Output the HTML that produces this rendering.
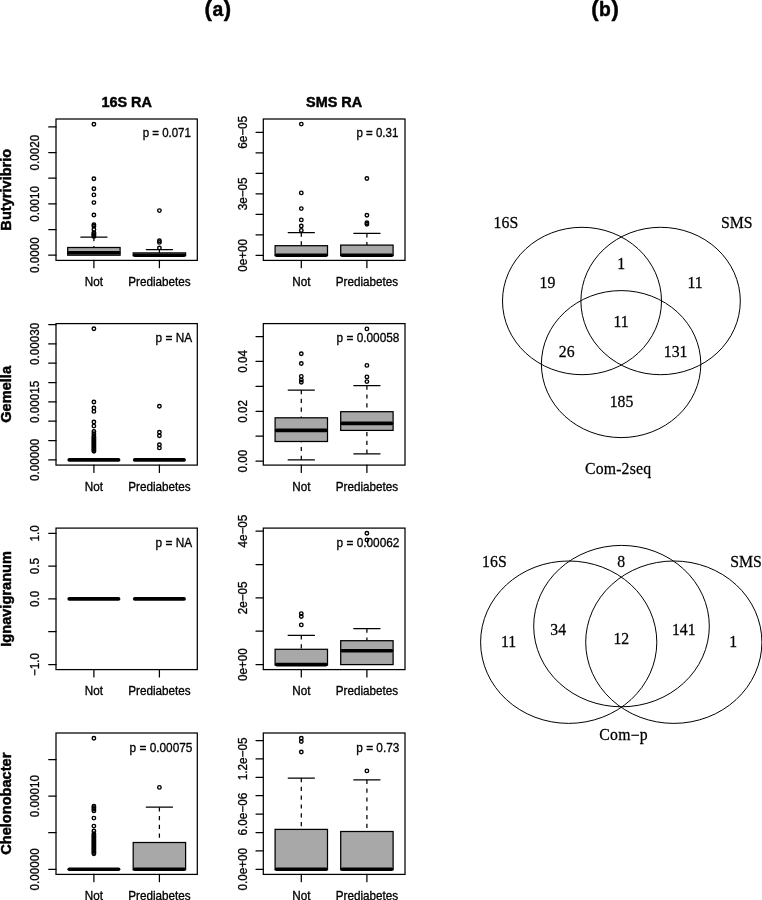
<!DOCTYPE html>
<html><head><meta charset="utf-8"><title>Figure</title>
<style>
html,body{margin:0;padding:0;background:#fff;}
body{width:762px;height:900px;overflow:hidden;font-family:"Liberation Sans",sans-serif;}
svg{display:block;will-change:transform;}
svg text{font-family:"Liberation Sans",sans-serif;fill:#000;stroke:#000;stroke-width:0.3px;}
svg text.sf{font-family:"Liberation Serif",serif;stroke-width:0.25px;}
svg text.bd{font-weight:bold;stroke-width:0.45px;}
</style></head><body>
<svg width="762" height="900" viewBox="0 0 762 900">
<rect width="762" height="900" fill="#fff"/>
<path d="M48.7 126.9H56.0" stroke="#000" stroke-width="1.25" stroke-linecap="round" fill="none"/>
<path d="M48.7 152.5H56.0" stroke="#000" stroke-width="1.25" stroke-linecap="round" fill="none"/>
<path d="M48.7 178.2H56.0" stroke="#000" stroke-width="1.25" stroke-linecap="round" fill="none"/>
<path d="M48.7 203.8H56.0" stroke="#000" stroke-width="1.25" stroke-linecap="round" fill="none"/>
<path d="M48.7 229.5H56.0" stroke="#000" stroke-width="1.25" stroke-linecap="round" fill="none"/>
<path d="M48.7 255.2H56.0" stroke="#000" stroke-width="1.25" stroke-linecap="round" fill="none"/>
<text transform="translate(39.4 255.2) rotate(-90) scale(1 1.05)" text-anchor="middle" font-size="11.7">0.0000</text>
<text transform="translate(39.4 203.8) rotate(-90) scale(1 1.05)" text-anchor="middle" font-size="11.7">0.0010</text>
<text transform="translate(39.4 152.5) rotate(-90) scale(1 1.05)" text-anchor="middle" font-size="11.7">0.0020</text>
<path d="M93.9 260.4V267.7" stroke="#000" stroke-width="1.25" stroke-linecap="round" fill="none"/>
<text transform="translate(93.9 285.9) scale(1 1.05)" text-anchor="middle" font-size="11.7">Not</text>
<path d="M159.4 260.4V267.7" stroke="#000" stroke-width="1.25" stroke-linecap="round" fill="none"/>
<text transform="translate(159.4 285.9) scale(1 1.05)" text-anchor="middle" font-size="11.7">Prediabetes</text>
<path d="M93.9 237.1V247.5" stroke="#000" stroke-width="1.25" stroke-dasharray="4.2 4.6" fill="none"/>
<path d="M80.8 237.1H107.0" stroke="#000" stroke-width="1.25" stroke-linecap="round" fill="none"/>
<rect x="67.7" y="247.5" width="52.4" height="7.7" fill="#a8a8a8" stroke="none"/>
<path d="M69.2 252.8H118.6" stroke="#000" stroke-width="3.6" stroke-linecap="round" fill="none"/>
<rect x="67.7" y="247.5" width="52.4" height="7.7" fill="none" stroke="#000" stroke-width="1.25"/>
<circle cx="93.9" cy="124.3" r="1.75" fill="none" stroke="#000" stroke-width="1.4"/>
<circle cx="93.9" cy="178.7" r="1.75" fill="none" stroke="#000" stroke-width="1.4"/>
<circle cx="93.9" cy="188.7" r="1.75" fill="none" stroke="#000" stroke-width="1.4"/>
<circle cx="93.9" cy="194.9" r="1.75" fill="none" stroke="#000" stroke-width="1.4"/>
<circle cx="93.9" cy="202.6" r="1.75" fill="none" stroke="#000" stroke-width="1.4"/>
<circle cx="93.9" cy="215.0" r="1.75" fill="none" stroke="#000" stroke-width="1.4"/>
<circle cx="93.9" cy="224.8" r="1.75" fill="none" stroke="#000" stroke-width="1.4"/>
<circle cx="93.9" cy="226.3" r="1.75" fill="none" stroke="#000" stroke-width="1.4"/>
<circle cx="93.9" cy="229.4" r="1.75" fill="none" stroke="#000" stroke-width="1.4"/>
<circle cx="93.9" cy="232.6" r="1.75" fill="none" stroke="#000" stroke-width="1.4"/>
<circle cx="93.9" cy="233.6" r="1.75" fill="none" stroke="#000" stroke-width="1.4"/>
<circle cx="93.9" cy="234.6" r="1.75" fill="none" stroke="#000" stroke-width="1.4"/>
<circle cx="93.9" cy="235.6" r="1.75" fill="none" stroke="#000" stroke-width="1.4"/>
<circle cx="93.9" cy="236.4" r="1.75" fill="none" stroke="#000" stroke-width="1.4"/>
<path d="M159.4 249.5V252.9" stroke="#000" stroke-width="1.25" stroke-dasharray="4.2 4.6" fill="none"/>
<path d="M146.3 249.5H172.5" stroke="#000" stroke-width="1.25" stroke-linecap="round" fill="none"/>
<rect x="133.2" y="252.9" width="52.4" height="2.7" fill="#a8a8a8" stroke="none"/>
<path d="M134.7 255.2H184.1" stroke="#000" stroke-width="3.6" stroke-linecap="round" fill="none"/>
<rect x="133.2" y="252.9" width="52.4" height="2.7" fill="none" stroke="#000" stroke-width="1.25"/>
<circle cx="159.4" cy="210.6" r="1.75" fill="none" stroke="#000" stroke-width="1.4"/>
<circle cx="159.4" cy="240.7" r="1.75" fill="none" stroke="#000" stroke-width="1.4"/>
<circle cx="159.4" cy="242.4" r="1.75" fill="none" stroke="#000" stroke-width="1.4"/>
<circle cx="159.4" cy="248.0" r="1.75" fill="none" stroke="#000" stroke-width="1.4"/>
<rect x="56.0" y="119.0" width="141.3" height="141.4" fill="none" stroke="#000" stroke-width="1.25"/>
<text transform="translate(190.9 137.4) scale(1 1.05)" text-anchor="end" font-size="11.5">p = 0.071</text>
<path d="M256.0 132.3H263.3" stroke="#000" stroke-width="1.25" stroke-linecap="round" fill="none"/>
<path d="M256.0 152.8H263.3" stroke="#000" stroke-width="1.25" stroke-linecap="round" fill="none"/>
<path d="M256.0 173.3H263.3" stroke="#000" stroke-width="1.25" stroke-linecap="round" fill="none"/>
<path d="M256.0 193.8H263.3" stroke="#000" stroke-width="1.25" stroke-linecap="round" fill="none"/>
<path d="M256.0 214.3H263.3" stroke="#000" stroke-width="1.25" stroke-linecap="round" fill="none"/>
<path d="M256.0 234.8H263.3" stroke="#000" stroke-width="1.25" stroke-linecap="round" fill="none"/>
<path d="M256.0 255.3H263.3" stroke="#000" stroke-width="1.25" stroke-linecap="round" fill="none"/>
<text transform="translate(246.7 255.3) rotate(-90) scale(1 1.05)" text-anchor="middle" font-size="11.7">0e+00</text>
<text transform="translate(246.7 193.8) rotate(-90) scale(1 1.05)" text-anchor="middle" font-size="11.7">3e−05</text>
<text transform="translate(246.7 132.3) rotate(-90) scale(1 1.05)" text-anchor="middle" font-size="11.7">6e−05</text>
<path d="M301.3 260.4V267.7" stroke="#000" stroke-width="1.25" stroke-linecap="round" fill="none"/>
<text transform="translate(301.3 285.9) scale(1 1.05)" text-anchor="middle" font-size="11.7">Not</text>
<path d="M366.9 260.4V267.7" stroke="#000" stroke-width="1.25" stroke-linecap="round" fill="none"/>
<text transform="translate(366.9 285.9) scale(1 1.05)" text-anchor="middle" font-size="11.7">Prediabetes</text>
<path d="M301.3 232.5V245.7" stroke="#000" stroke-width="1.25" stroke-dasharray="4.2 4.6" fill="none"/>
<path d="M288.2 232.5H314.4" stroke="#000" stroke-width="1.25" stroke-linecap="round" fill="none"/>
<rect x="275.1" y="245.7" width="52.4" height="9.9" fill="#a8a8a8" stroke="none"/>
<path d="M276.6 255.3H326.0" stroke="#000" stroke-width="3.6" stroke-linecap="round" fill="none"/>
<rect x="275.1" y="245.7" width="52.4" height="9.9" fill="none" stroke="#000" stroke-width="1.25"/>
<circle cx="301.3" cy="124.1" r="1.75" fill="none" stroke="#000" stroke-width="1.4"/>
<circle cx="301.3" cy="192.9" r="1.75" fill="none" stroke="#000" stroke-width="1.4"/>
<circle cx="301.3" cy="208.6" r="1.75" fill="none" stroke="#000" stroke-width="1.4"/>
<circle cx="301.3" cy="219.9" r="1.75" fill="none" stroke="#000" stroke-width="1.4"/>
<circle cx="301.3" cy="226.0" r="1.75" fill="none" stroke="#000" stroke-width="1.4"/>
<circle cx="301.3" cy="230.4" r="1.75" fill="none" stroke="#000" stroke-width="1.4"/>
<path d="M366.9 233.3V245.1" stroke="#000" stroke-width="1.25" stroke-dasharray="4.2 4.6" fill="none"/>
<path d="M353.8 233.3H380.0" stroke="#000" stroke-width="1.25" stroke-linecap="round" fill="none"/>
<rect x="340.7" y="245.1" width="52.4" height="10.5" fill="#a8a8a8" stroke="none"/>
<path d="M342.2 255.3H391.6" stroke="#000" stroke-width="3.6" stroke-linecap="round" fill="none"/>
<rect x="340.7" y="245.1" width="52.4" height="10.5" fill="none" stroke="#000" stroke-width="1.25"/>
<circle cx="366.9" cy="178.5" r="1.75" fill="none" stroke="#000" stroke-width="1.4"/>
<circle cx="366.9" cy="215.2" r="1.75" fill="none" stroke="#000" stroke-width="1.4"/>
<circle cx="366.9" cy="222.8" r="1.75" fill="none" stroke="#000" stroke-width="1.4"/>
<circle cx="366.9" cy="224.3" r="1.75" fill="none" stroke="#000" stroke-width="1.4"/>
<rect x="263.3" y="119.0" width="141.7" height="141.4" fill="none" stroke="#000" stroke-width="1.25"/>
<text transform="translate(398.3 137.4) scale(1 1.05)" text-anchor="end" font-size="11.5">p = 0.31</text>
<path d="M48.7 324.5H56.0" stroke="#000" stroke-width="1.25" stroke-linecap="round" fill="none"/>
<path d="M48.7 343.9H56.0" stroke="#000" stroke-width="1.25" stroke-linecap="round" fill="none"/>
<path d="M48.7 363.2H56.0" stroke="#000" stroke-width="1.25" stroke-linecap="round" fill="none"/>
<path d="M48.7 382.6H56.0" stroke="#000" stroke-width="1.25" stroke-linecap="round" fill="none"/>
<path d="M48.7 401.9H56.0" stroke="#000" stroke-width="1.25" stroke-linecap="round" fill="none"/>
<path d="M48.7 421.2H56.0" stroke="#000" stroke-width="1.25" stroke-linecap="round" fill="none"/>
<path d="M48.7 440.6H56.0" stroke="#000" stroke-width="1.25" stroke-linecap="round" fill="none"/>
<path d="M48.7 459.9H56.0" stroke="#000" stroke-width="1.25" stroke-linecap="round" fill="none"/>
<text transform="translate(39.4 459.9) rotate(-90) scale(1 1.05)" text-anchor="middle" font-size="11.7">0.00000</text>
<text transform="translate(39.4 401.9) rotate(-90) scale(1 1.05)" text-anchor="middle" font-size="11.7">0.00015</text>
<text transform="translate(39.4 343.9) rotate(-90) scale(1 1.05)" text-anchor="middle" font-size="11.7">0.00030</text>
<path d="M93.9 465.1V472.4" stroke="#000" stroke-width="1.25" stroke-linecap="round" fill="none"/>
<text transform="translate(93.9 490.6) scale(1 1.05)" text-anchor="middle" font-size="11.7">Not</text>
<path d="M159.4 465.1V472.4" stroke="#000" stroke-width="1.25" stroke-linecap="round" fill="none"/>
<text transform="translate(159.4 490.6) scale(1 1.05)" text-anchor="middle" font-size="11.7">Prediabetes</text>
<path d="M69.2 459.9H118.6" stroke="#000" stroke-width="3.6" stroke-linecap="round" fill="none"/>
<circle cx="93.9" cy="328.8" r="1.75" fill="none" stroke="#000" stroke-width="1.4"/>
<circle cx="93.9" cy="402.0" r="1.75" fill="none" stroke="#000" stroke-width="1.4"/>
<circle cx="93.9" cy="408.0" r="1.75" fill="none" stroke="#000" stroke-width="1.4"/>
<circle cx="93.9" cy="411.4" r="1.75" fill="none" stroke="#000" stroke-width="1.4"/>
<circle cx="93.9" cy="422.0" r="1.75" fill="none" stroke="#000" stroke-width="1.4"/>
<circle cx="93.9" cy="426.1" r="1.75" fill="none" stroke="#000" stroke-width="1.4"/>
<circle cx="93.9" cy="431.5" r="1.75" fill="none" stroke="#000" stroke-width="1.4"/>
<circle cx="93.9" cy="433.7" r="1.75" fill="none" stroke="#000" stroke-width="1.4"/>
<circle cx="93.9" cy="436.1" r="1.75" fill="none" stroke="#000" stroke-width="1.4"/>
<circle cx="93.9" cy="437.5" r="1.75" fill="none" stroke="#000" stroke-width="1.4"/>
<circle cx="93.9" cy="438.6" r="1.75" fill="none" stroke="#000" stroke-width="1.4"/>
<circle cx="93.9" cy="439.8" r="1.75" fill="none" stroke="#000" stroke-width="1.4"/>
<circle cx="93.9" cy="440.9" r="1.75" fill="none" stroke="#000" stroke-width="1.4"/>
<circle cx="93.9" cy="442.1" r="1.75" fill="none" stroke="#000" stroke-width="1.4"/>
<circle cx="93.9" cy="443.2" r="1.75" fill="none" stroke="#000" stroke-width="1.4"/>
<circle cx="93.9" cy="444.4" r="1.75" fill="none" stroke="#000" stroke-width="1.4"/>
<circle cx="93.9" cy="445.6" r="1.75" fill="none" stroke="#000" stroke-width="1.4"/>
<circle cx="93.9" cy="446.7" r="1.75" fill="none" stroke="#000" stroke-width="1.4"/>
<circle cx="93.9" cy="447.9" r="1.75" fill="none" stroke="#000" stroke-width="1.4"/>
<circle cx="93.9" cy="449.0" r="1.75" fill="none" stroke="#000" stroke-width="1.4"/>
<circle cx="93.9" cy="450.2" r="1.75" fill="none" stroke="#000" stroke-width="1.4"/>
<circle cx="93.9" cy="451.3" r="1.75" fill="none" stroke="#000" stroke-width="1.4"/>
<path d="M134.7 459.9H184.1" stroke="#000" stroke-width="3.6" stroke-linecap="round" fill="none"/>
<circle cx="159.4" cy="406.2" r="1.75" fill="none" stroke="#000" stroke-width="1.4"/>
<circle cx="159.4" cy="432.2" r="1.75" fill="none" stroke="#000" stroke-width="1.4"/>
<circle cx="159.4" cy="435.8" r="1.75" fill="none" stroke="#000" stroke-width="1.4"/>
<circle cx="159.4" cy="444.8" r="1.75" fill="none" stroke="#000" stroke-width="1.4"/>
<circle cx="159.4" cy="447.9" r="1.75" fill="none" stroke="#000" stroke-width="1.4"/>
<rect x="56.0" y="323.6" width="141.3" height="141.5" fill="none" stroke="#000" stroke-width="1.25"/>
<text transform="translate(192.1 342.0) scale(1 1.05)" text-anchor="end" font-size="11.85">p = NA</text>
<path d="M256.0 336.5H263.3" stroke="#000" stroke-width="1.25" stroke-linecap="round" fill="none"/>
<path d="M256.0 361.4H263.3" stroke="#000" stroke-width="1.25" stroke-linecap="round" fill="none"/>
<path d="M256.0 386.4H263.3" stroke="#000" stroke-width="1.25" stroke-linecap="round" fill="none"/>
<path d="M256.0 411.3H263.3" stroke="#000" stroke-width="1.25" stroke-linecap="round" fill="none"/>
<path d="M256.0 436.2H263.3" stroke="#000" stroke-width="1.25" stroke-linecap="round" fill="none"/>
<path d="M256.0 461.2H263.3" stroke="#000" stroke-width="1.25" stroke-linecap="round" fill="none"/>
<text transform="translate(246.7 461.2) rotate(-90) scale(1 1.05)" text-anchor="middle" font-size="11.7">0.00</text>
<text transform="translate(246.7 411.3) rotate(-90) scale(1 1.05)" text-anchor="middle" font-size="11.7">0.02</text>
<text transform="translate(246.7 361.4) rotate(-90) scale(1 1.05)" text-anchor="middle" font-size="11.7">0.04</text>
<path d="M301.3 465.1V472.4" stroke="#000" stroke-width="1.25" stroke-linecap="round" fill="none"/>
<text transform="translate(301.3 490.6) scale(1 1.05)" text-anchor="middle" font-size="11.7">Not</text>
<path d="M366.9 465.1V472.4" stroke="#000" stroke-width="1.25" stroke-linecap="round" fill="none"/>
<text transform="translate(366.9 490.6) scale(1 1.05)" text-anchor="middle" font-size="11.7">Prediabetes</text>
<path d="M301.3 390.0V417.8" stroke="#000" stroke-width="1.25" stroke-dasharray="4.2 4.6" fill="none"/>
<path d="M288.2 390.0H314.4" stroke="#000" stroke-width="1.25" stroke-linecap="round" fill="none"/>
<path d="M301.3 459.9V441.5" stroke="#000" stroke-width="1.25" stroke-dasharray="4.2 4.6" fill="none"/>
<path d="M288.2 459.9H314.4" stroke="#000" stroke-width="1.25" stroke-linecap="round" fill="none"/>
<rect x="275.1" y="417.8" width="52.4" height="23.7" fill="#a8a8a8" stroke="none"/>
<path d="M276.6 430.4H326.0" stroke="#000" stroke-width="3.6" stroke-linecap="round" fill="none"/>
<rect x="275.1" y="417.8" width="52.4" height="23.7" fill="none" stroke="#000" stroke-width="1.25"/>
<circle cx="301.3" cy="353.8" r="1.75" fill="none" stroke="#000" stroke-width="1.4"/>
<circle cx="301.3" cy="363.5" r="1.75" fill="none" stroke="#000" stroke-width="1.4"/>
<circle cx="301.3" cy="376.4" r="1.75" fill="none" stroke="#000" stroke-width="1.4"/>
<circle cx="301.3" cy="380.0" r="1.75" fill="none" stroke="#000" stroke-width="1.4"/>
<circle cx="301.3" cy="382.2" r="1.75" fill="none" stroke="#000" stroke-width="1.4"/>
<path d="M366.9 385.6V411.7" stroke="#000" stroke-width="1.25" stroke-dasharray="4.2 4.6" fill="none"/>
<path d="M353.8 385.6H380.0" stroke="#000" stroke-width="1.25" stroke-linecap="round" fill="none"/>
<path d="M366.9 453.8V430.4" stroke="#000" stroke-width="1.25" stroke-dasharray="4.2 4.6" fill="none"/>
<path d="M353.8 453.8H380.0" stroke="#000" stroke-width="1.25" stroke-linecap="round" fill="none"/>
<rect x="340.7" y="411.7" width="52.4" height="18.7" fill="#a8a8a8" stroke="none"/>
<path d="M342.2 423.4H391.6" stroke="#000" stroke-width="3.6" stroke-linecap="round" fill="none"/>
<rect x="340.7" y="411.7" width="52.4" height="18.7" fill="none" stroke="#000" stroke-width="1.25"/>
<circle cx="366.9" cy="328.9" r="1.75" fill="none" stroke="#000" stroke-width="1.4"/>
<circle cx="366.9" cy="365.4" r="1.75" fill="none" stroke="#000" stroke-width="1.4"/>
<circle cx="366.9" cy="376.9" r="1.75" fill="none" stroke="#000" stroke-width="1.4"/>
<circle cx="366.9" cy="381.6" r="1.75" fill="none" stroke="#000" stroke-width="1.4"/>
<rect x="263.3" y="323.6" width="141.7" height="141.5" fill="none" stroke="#000" stroke-width="1.25"/>
<text transform="translate(399.4 342.2) scale(1 1.05)" text-anchor="end" font-size="11.85">p = 0.00058</text>
<path d="M48.7 533.3H56.0" stroke="#000" stroke-width="1.25" stroke-linecap="round" fill="none"/>
<path d="M48.7 566.1H56.0" stroke="#000" stroke-width="1.25" stroke-linecap="round" fill="none"/>
<path d="M48.7 598.9H56.0" stroke="#000" stroke-width="1.25" stroke-linecap="round" fill="none"/>
<path d="M48.7 631.7H56.0" stroke="#000" stroke-width="1.25" stroke-linecap="round" fill="none"/>
<path d="M48.7 664.5H56.0" stroke="#000" stroke-width="1.25" stroke-linecap="round" fill="none"/>
<text transform="translate(39.4 664.5) rotate(-90) scale(1 1.05)" text-anchor="middle" font-size="11.7">−1.0</text>
<text transform="translate(39.4 598.9) rotate(-90) scale(1 1.05)" text-anchor="middle" font-size="11.7">0.0</text>
<text transform="translate(39.4 566.1) rotate(-90) scale(1 1.05)" text-anchor="middle" font-size="11.7">0.5</text>
<text transform="translate(39.4 533.3) rotate(-90) scale(1 1.05)" text-anchor="middle" font-size="11.7">1.0</text>
<path d="M93.9 669.6V676.9" stroke="#000" stroke-width="1.25" stroke-linecap="round" fill="none"/>
<text transform="translate(93.9 695.1) scale(1 1.05)" text-anchor="middle" font-size="11.7">Not</text>
<path d="M159.4 669.6V676.9" stroke="#000" stroke-width="1.25" stroke-linecap="round" fill="none"/>
<text transform="translate(159.4 695.1) scale(1 1.05)" text-anchor="middle" font-size="11.7">Prediabetes</text>
<path d="M69.2 598.9H118.6" stroke="#000" stroke-width="3.6" stroke-linecap="round" fill="none"/>
<path d="M134.7 598.9H184.1" stroke="#000" stroke-width="3.6" stroke-linecap="round" fill="none"/>
<rect x="56.0" y="528.1" width="141.3" height="141.5" fill="none" stroke="#000" stroke-width="1.25"/>
<text transform="translate(192.1 546.5) scale(1 1.05)" text-anchor="end" font-size="11.85">p = NA</text>
<path d="M256.0 531.2H263.3" stroke="#000" stroke-width="1.25" stroke-linecap="round" fill="none"/>
<path d="M256.0 564.6H263.3" stroke="#000" stroke-width="1.25" stroke-linecap="round" fill="none"/>
<path d="M256.0 597.9H263.3" stroke="#000" stroke-width="1.25" stroke-linecap="round" fill="none"/>
<path d="M256.0 631.2H263.3" stroke="#000" stroke-width="1.25" stroke-linecap="round" fill="none"/>
<path d="M256.0 664.6H263.3" stroke="#000" stroke-width="1.25" stroke-linecap="round" fill="none"/>
<text transform="translate(246.7 664.6) rotate(-90) scale(1 1.05)" text-anchor="middle" font-size="11.7">0e+00</text>
<text transform="translate(246.7 597.9) rotate(-90) scale(1 1.05)" text-anchor="middle" font-size="11.7">2e−05</text>
<text transform="translate(246.7 531.2) rotate(-90) scale(1 1.05)" text-anchor="middle" font-size="11.7">4e−05</text>
<path d="M301.3 669.6V676.9" stroke="#000" stroke-width="1.25" stroke-linecap="round" fill="none"/>
<text transform="translate(301.3 695.1) scale(1 1.05)" text-anchor="middle" font-size="11.7">Not</text>
<path d="M366.9 669.6V676.9" stroke="#000" stroke-width="1.25" stroke-linecap="round" fill="none"/>
<text transform="translate(366.9 695.1) scale(1 1.05)" text-anchor="middle" font-size="11.7">Prediabetes</text>
<path d="M301.3 635.4V649.3" stroke="#000" stroke-width="1.25" stroke-dasharray="4.2 4.6" fill="none"/>
<path d="M288.2 635.4H314.4" stroke="#000" stroke-width="1.25" stroke-linecap="round" fill="none"/>
<rect x="275.1" y="649.3" width="52.4" height="15.7" fill="#a8a8a8" stroke="none"/>
<path d="M276.6 664.6H326.0" stroke="#000" stroke-width="3.6" stroke-linecap="round" fill="none"/>
<rect x="275.1" y="649.3" width="52.4" height="15.7" fill="none" stroke="#000" stroke-width="1.25"/>
<circle cx="301.3" cy="613.6" r="1.75" fill="none" stroke="#000" stroke-width="1.4"/>
<circle cx="301.3" cy="616.5" r="1.75" fill="none" stroke="#000" stroke-width="1.4"/>
<circle cx="301.3" cy="624.9" r="1.75" fill="none" stroke="#000" stroke-width="1.4"/>
<path d="M366.9 628.6V640.7" stroke="#000" stroke-width="1.25" stroke-dasharray="4.2 4.6" fill="none"/>
<path d="M353.8 628.6H380.0" stroke="#000" stroke-width="1.25" stroke-linecap="round" fill="none"/>
<rect x="340.7" y="640.7" width="52.4" height="23.9" fill="#a8a8a8" stroke="none"/>
<path d="M342.2 650.7H391.6" stroke="#000" stroke-width="3.6" stroke-linecap="round" fill="none"/>
<rect x="340.7" y="640.7" width="52.4" height="23.9" fill="none" stroke="#000" stroke-width="1.25"/>
<circle cx="366.9" cy="533.3" r="1.75" fill="none" stroke="#000" stroke-width="1.4"/>
<circle cx="366.9" cy="539.9" r="1.75" fill="none" stroke="#000" stroke-width="1.4"/>
<rect x="263.3" y="528.1" width="141.7" height="141.5" fill="none" stroke="#000" stroke-width="1.25"/>
<text transform="translate(399.4 546.5) scale(1 1.05)" text-anchor="end" font-size="11.85">p = 0.00062</text>
<path d="M48.7 759.5H56.0" stroke="#000" stroke-width="1.25" stroke-linecap="round" fill="none"/>
<path d="M48.7 796.1H56.0" stroke="#000" stroke-width="1.25" stroke-linecap="round" fill="none"/>
<path d="M48.7 832.7H56.0" stroke="#000" stroke-width="1.25" stroke-linecap="round" fill="none"/>
<path d="M48.7 869.3H56.0" stroke="#000" stroke-width="1.25" stroke-linecap="round" fill="none"/>
<text transform="translate(39.4 869.3) rotate(-90) scale(1 1.05)" text-anchor="middle" font-size="11.7">0.00000</text>
<text transform="translate(39.4 796.1) rotate(-90) scale(1 1.05)" text-anchor="middle" font-size="11.7">0.00010</text>
<path d="M93.9 874.4V881.7" stroke="#000" stroke-width="1.25" stroke-linecap="round" fill="none"/>
<text transform="translate(93.9 899.9) scale(1 1.05)" text-anchor="middle" font-size="11.7">Not</text>
<path d="M159.4 874.4V881.7" stroke="#000" stroke-width="1.25" stroke-linecap="round" fill="none"/>
<text transform="translate(159.4 899.9) scale(1 1.05)" text-anchor="middle" font-size="11.7">Prediabetes</text>
<path d="M69.2 869.3H118.6" stroke="#000" stroke-width="3.6" stroke-linecap="round" fill="none"/>
<circle cx="93.9" cy="738.3" r="1.75" fill="none" stroke="#000" stroke-width="1.4"/>
<circle cx="93.9" cy="806.3" r="1.75" fill="none" stroke="#000" stroke-width="1.4"/>
<circle cx="93.9" cy="807.8" r="1.75" fill="none" stroke="#000" stroke-width="1.4"/>
<circle cx="93.9" cy="809.3" r="1.75" fill="none" stroke="#000" stroke-width="1.4"/>
<circle cx="93.9" cy="810.9" r="1.75" fill="none" stroke="#000" stroke-width="1.4"/>
<circle cx="93.9" cy="818.1" r="1.75" fill="none" stroke="#000" stroke-width="1.4"/>
<circle cx="93.9" cy="826.1" r="1.75" fill="none" stroke="#000" stroke-width="1.4"/>
<circle cx="93.9" cy="831.0" r="1.75" fill="none" stroke="#000" stroke-width="1.4"/>
<circle cx="93.9" cy="833.7" r="1.75" fill="none" stroke="#000" stroke-width="1.4"/>
<circle cx="93.9" cy="835.3" r="1.75" fill="none" stroke="#000" stroke-width="1.4"/>
<circle cx="93.9" cy="836.5" r="1.75" fill="none" stroke="#000" stroke-width="1.4"/>
<circle cx="93.9" cy="837.8" r="1.75" fill="none" stroke="#000" stroke-width="1.4"/>
<circle cx="93.9" cy="839.0" r="1.75" fill="none" stroke="#000" stroke-width="1.4"/>
<circle cx="93.9" cy="840.2" r="1.75" fill="none" stroke="#000" stroke-width="1.4"/>
<circle cx="93.9" cy="841.4" r="1.75" fill="none" stroke="#000" stroke-width="1.4"/>
<circle cx="93.9" cy="842.7" r="1.75" fill="none" stroke="#000" stroke-width="1.4"/>
<circle cx="93.9" cy="843.9" r="1.75" fill="none" stroke="#000" stroke-width="1.4"/>
<circle cx="93.9" cy="845.1" r="1.75" fill="none" stroke="#000" stroke-width="1.4"/>
<circle cx="93.9" cy="846.3" r="1.75" fill="none" stroke="#000" stroke-width="1.4"/>
<circle cx="93.9" cy="847.6" r="1.75" fill="none" stroke="#000" stroke-width="1.4"/>
<circle cx="93.9" cy="848.8" r="1.75" fill="none" stroke="#000" stroke-width="1.4"/>
<circle cx="93.9" cy="850.0" r="1.75" fill="none" stroke="#000" stroke-width="1.4"/>
<circle cx="93.9" cy="851.2" r="1.75" fill="none" stroke="#000" stroke-width="1.4"/>
<circle cx="93.9" cy="852.5" r="1.75" fill="none" stroke="#000" stroke-width="1.4"/>
<circle cx="93.9" cy="853.7" r="1.75" fill="none" stroke="#000" stroke-width="1.4"/>
<path d="M159.4 807.2V842.5" stroke="#000" stroke-width="1.25" stroke-dasharray="4.2 4.6" fill="none"/>
<path d="M146.3 807.2H172.5" stroke="#000" stroke-width="1.25" stroke-linecap="round" fill="none"/>
<rect x="133.2" y="842.5" width="52.4" height="27.2" fill="#a8a8a8" stroke="none"/>
<path d="M134.7 869.3H184.1" stroke="#000" stroke-width="3.6" stroke-linecap="round" fill="none"/>
<rect x="133.2" y="842.5" width="52.4" height="27.2" fill="none" stroke="#000" stroke-width="1.25"/>
<circle cx="159.4" cy="787.4" r="1.75" fill="none" stroke="#000" stroke-width="1.4"/>
<rect x="56.0" y="733.0" width="141.3" height="141.4" fill="none" stroke="#000" stroke-width="1.25"/>
<text transform="translate(192.4 751.7) scale(1 1.05)" text-anchor="end" font-size="11.85">p = 0.00075</text>
<path d="M256.0 740.5H263.3" stroke="#000" stroke-width="1.25" stroke-linecap="round" fill="none"/>
<path d="M256.0 758.9H263.3" stroke="#000" stroke-width="1.25" stroke-linecap="round" fill="none"/>
<path d="M256.0 777.3H263.3" stroke="#000" stroke-width="1.25" stroke-linecap="round" fill="none"/>
<path d="M256.0 795.7H263.3" stroke="#000" stroke-width="1.25" stroke-linecap="round" fill="none"/>
<path d="M256.0 814.1H263.3" stroke="#000" stroke-width="1.25" stroke-linecap="round" fill="none"/>
<path d="M256.0 832.5H263.3" stroke="#000" stroke-width="1.25" stroke-linecap="round" fill="none"/>
<path d="M256.0 850.9H263.3" stroke="#000" stroke-width="1.25" stroke-linecap="round" fill="none"/>
<path d="M256.0 869.3H263.3" stroke="#000" stroke-width="1.25" stroke-linecap="round" fill="none"/>
<text transform="translate(246.7 869.3) rotate(-90) scale(1 1.05)" text-anchor="middle" font-size="11.7">0.0e+00</text>
<text transform="translate(246.7 814.1) rotate(-90) scale(1 1.05)" text-anchor="middle" font-size="11.7">6.0e−06</text>
<text transform="translate(246.7 758.9) rotate(-90) scale(1 1.05)" text-anchor="middle" font-size="11.7">1.2e−05</text>
<path d="M301.3 874.4V881.7" stroke="#000" stroke-width="1.25" stroke-linecap="round" fill="none"/>
<text transform="translate(301.3 899.9) scale(1 1.05)" text-anchor="middle" font-size="11.7">Not</text>
<path d="M366.9 874.4V881.7" stroke="#000" stroke-width="1.25" stroke-linecap="round" fill="none"/>
<text transform="translate(366.9 899.9) scale(1 1.05)" text-anchor="middle" font-size="11.7">Prediabetes</text>
<path d="M301.3 778.0V829.4" stroke="#000" stroke-width="1.25" stroke-dasharray="4.2 4.6" fill="none"/>
<path d="M288.2 778.0H314.4" stroke="#000" stroke-width="1.25" stroke-linecap="round" fill="none"/>
<rect x="275.1" y="829.4" width="52.4" height="40.3" fill="#a8a8a8" stroke="none"/>
<path d="M276.6 869.3H326.0" stroke="#000" stroke-width="3.6" stroke-linecap="round" fill="none"/>
<rect x="275.1" y="829.4" width="52.4" height="40.3" fill="none" stroke="#000" stroke-width="1.25"/>
<circle cx="301.3" cy="738.3" r="1.75" fill="none" stroke="#000" stroke-width="1.4"/>
<circle cx="301.3" cy="741.5" r="1.75" fill="none" stroke="#000" stroke-width="1.4"/>
<circle cx="301.3" cy="752.0" r="1.75" fill="none" stroke="#000" stroke-width="1.4"/>
<path d="M366.9 779.8V831.5" stroke="#000" stroke-width="1.25" stroke-dasharray="4.2 4.6" fill="none"/>
<path d="M353.8 779.8H380.0" stroke="#000" stroke-width="1.25" stroke-linecap="round" fill="none"/>
<rect x="340.7" y="831.5" width="52.4" height="38.2" fill="#a8a8a8" stroke="none"/>
<path d="M342.2 869.3H391.6" stroke="#000" stroke-width="3.6" stroke-linecap="round" fill="none"/>
<rect x="340.7" y="831.5" width="52.4" height="38.2" fill="none" stroke="#000" stroke-width="1.25"/>
<circle cx="366.9" cy="770.9" r="1.75" fill="none" stroke="#000" stroke-width="1.4"/>
<rect x="263.3" y="733.0" width="141.7" height="141.4" fill="none" stroke="#000" stroke-width="1.25"/>
<text transform="translate(399.4 751.8) scale(1 1.05)" text-anchor="end" font-size="11.85">p = 0.73</text>
<text transform="translate(126.7 106.5) scale(1 1.04)" text-anchor="middle" font-size="14.45" class="bd">16S RA</text>
<text transform="translate(334.1 106.5) scale(1 1.04)" text-anchor="middle" font-size="14.45" class="bd">SMS RA</text>
<text transform="translate(10.8 189.7) rotate(-90)" text-anchor="middle" font-size="14.6" class="bd">Butyrivibrio</text>
<text transform="translate(10.8 394.4) rotate(-90)" text-anchor="middle" font-size="14.6" class="bd">Gemella</text>
<text transform="translate(10.8 598.9) rotate(-90)" text-anchor="middle" font-size="14.6" class="bd">Ignavigranum</text>
<text transform="translate(10.8 803.7) rotate(-90)" text-anchor="middle" font-size="14.6" class="bd">Chelonobacter</text>
<text x="218.2" y="15.9" text-anchor="middle" class="bd" letter-spacing="0.6"><tspan font-size="22">(</tspan><tspan font-size="19.3">a</tspan><tspan font-size="22">)</tspan></text>
<text x="605.3" y="15.9" text-anchor="middle" class="bd" letter-spacing="0.6"><tspan font-size="22">(</tspan><tspan font-size="19.3">b</tspan><tspan font-size="22">)</tspan></text>
<ellipse cx="582.0" cy="301.0" rx="79.5" ry="73.7" fill="none" stroke="#000" stroke-width="1.0"/>
<ellipse cx="660.6" cy="301.0" rx="79.7" ry="73.7" fill="none" stroke="#000" stroke-width="1.0"/>
<ellipse cx="621.1" cy="364.1" rx="79.7" ry="73.5" fill="none" stroke="#000" stroke-width="1.0"/>
<text transform="translate(493.6 227.7) scale(1 1.12)" text-anchor="start" font-size="15.8" class="sf">16S</text>
<text transform="translate(752.6 227.7) scale(1 1.12)" text-anchor="end" font-size="15.8" class="sf">SMS</text>
<text transform="translate(547.4 287.6) scale(1 1.12)" text-anchor="middle" font-size="15.8" class="sf">19</text>
<text transform="translate(621.1 269.3) scale(1 1.12)" text-anchor="middle" font-size="15.8" class="sf">1</text>
<text transform="translate(695.0 287.6) scale(1 1.12)" text-anchor="middle" font-size="15.8" class="sf">11</text>
<text transform="translate(621.0 327.3) scale(1 1.12)" text-anchor="middle" font-size="15.8" class="sf">11</text>
<text transform="translate(566.7 356.7) scale(1 1.12)" text-anchor="middle" font-size="15.8" class="sf">26</text>
<text transform="translate(675.6 356.7) scale(1 1.12)" text-anchor="middle" font-size="15.8" class="sf">131</text>
<text transform="translate(621.5 406.6) scale(1 1.12)" text-anchor="middle" font-size="15.8" class="sf">185</text>
<text transform="translate(618.1 474.3) scale(1 1.12)" text-anchor="middle" font-size="15.8" class="sf"><tspan letter-spacing="0.17">Com</tspan><tspan dy="0.8" letter-spacing="0.17">-</tspan><tspan dy="-0.8" letter-spacing="0.17">2seq</tspan></text>
<ellipse cx="568.7" cy="642.2" rx="88.1" ry="81.2" fill="none" stroke="#000" stroke-width="1.0"/>
<ellipse cx="621.5" cy="626.1" rx="87.8" ry="80.7" fill="none" stroke="#000" stroke-width="1.0"/>
<ellipse cx="673.8" cy="642.2" rx="88.1" ry="81.2" fill="none" stroke="#000" stroke-width="1.0"/>
<text transform="translate(482.1 566.9) scale(1 1.12)" text-anchor="start" font-size="15.8" class="sf">16S</text>
<text transform="translate(761.9 566.9) scale(1 1.12)" text-anchor="end" font-size="15.8" class="sf">SMS</text>
<text transform="translate(621.2 566.7) scale(1 1.12)" text-anchor="middle" font-size="15.8" class="sf">8</text>
<text transform="translate(508.5 647.2) scale(1 1.12)" text-anchor="middle" font-size="15.8" class="sf">11</text>
<text transform="translate(558.2 634.5) scale(1 1.12)" text-anchor="middle" font-size="15.8" class="sf">34</text>
<text transform="translate(621.3 644.3) scale(1 1.12)" text-anchor="middle" font-size="15.8" class="sf">12</text>
<text transform="translate(683.8 634.5) scale(1 1.12)" text-anchor="middle" font-size="15.8" class="sf">141</text>
<text transform="translate(733.2 647.2) scale(1 1.12)" text-anchor="middle" font-size="15.8" class="sf">1</text>
<text transform="translate(623.5 740.0) scale(1 1.12)" text-anchor="middle" font-size="15.8" class="sf"><tspan letter-spacing="0.2">Com</tspan><tspan dy="1.25" letter-spacing="0.2">−</tspan><tspan dy="-1.25">p</tspan></text>
</svg>
</body></html>
